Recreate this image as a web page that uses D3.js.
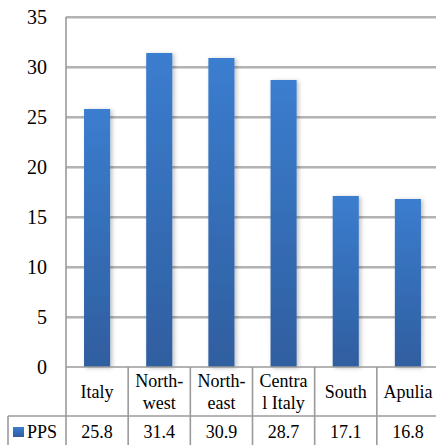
<!DOCTYPE html>
<html>
<head>
<meta charset="utf-8">
<script src="https://cdn.jsdelivr.net/npm/d3@7"></script>
<style>
  html, body { margin: 0; padding: 0; background: #fff; }
  svg text { font-family: "Liberation Serif", "Times New Roman", serif; fill: #000; }
</style>
</head>
<body>
<div id="chart"></div>
<script>
// data
const categories = ["Italy", "North-west", "North-east", "Central Italy", "South", "Apulia"];
const categoryLines = [["Italy"], ["North-", "west"], ["North-", "east"], ["Centra", "l Italy"], ["South"], ["Apulia"]];
const seriesName = "PPS";
const ppsValues = [25.8, 31.4, 30.9, 28.7, 17.1, 16.8];
const yTicks = [0, 5, 10, 15, 20, 25, 30, 35];

const W = 436, H = 445;
const plotLeft = 66, plotRight = 439, plotTop = 17, zeroY = 367;
const headBottom = 416, tableLeft = 8;

const svg = d3.select("#chart").append("svg")
    .attr("width", W).attr("height", H);

const defs = svg.append("defs");
const grad = defs.append("linearGradient")
    .attr("id", "barGrad").attr("x1", 0).attr("y1", 0).attr("x2", 0).attr("y2", 1);
grad.append("stop").attr("offset", "0%").attr("stop-color", "#3b7dcf");
grad.append("stop").attr("offset", "100%").attr("stop-color", "#2f5e9f");

const shadow = defs.append("filter").attr("id", "shadow")
    .attr("x", "-30%").attr("y", "-10%").attr("width", "180%").attr("height", "130%");
shadow.append("feDropShadow").attr("dx", 2).attr("dy", 1).attr("stdDeviation", 2)
    .attr("flood-color", "#000").attr("flood-opacity", 0.25);

const x = d3.scaleBand().domain(categories).range([plotLeft, plotRight])
    .paddingInner(0.58).paddingOuter(0.29);
const y = d3.scaleLinear().domain([0, 35]).range([zeroY, plotTop]);

const grey = "#9a9a9a";

// gridlines
svg.selectAll(".grid-shade").data(yTicks.filter(d => d > 0)).enter().append("line")
    .attr("x1", plotLeft).attr("x2", W)
    .attr("y1", d => y(d) + 1.5).attr("y2", d => y(d) + 1.5)
    .attr("stroke", "#d6d6d6").attr("stroke-width", 1);
svg.selectAll(".grid").data(yTicks.filter(d => d > 0)).enter().append("line")
    .attr("x1", plotLeft).attr("x2", W)
    .attr("y1", d => y(d)).attr("y2", d => y(d))
    .attr("stroke", grey).attr("stroke-width", 1.6);

// y axis labels
const yAxis = svg.append("g")
    .attr("transform", `translate(${plotLeft},0)`)
    .call(d3.axisLeft(y).tickValues(yTicks).tickSize(0).tickPadding(19));
yAxis.select(".domain").remove();
yAxis.selectAll("text")
    .style("font-family", '"Liberation Serif", serif')
    .style("font-size", "20px").attr("fill", "#000");

// bars
svg.selectAll(".bar").data(ppsValues).enter().append("rect")
    .attr("x", (d, i) => x(categories[i]))
    .attr("y", d => y(d))
    .attr("width", x.bandwidth())
    .attr("height", d => zeroY - y(d))
    .attr("fill", "url(#barGrad)")
    .attr("filter", "url(#shadow)");

// table lines
const step = x.step();
const cols = d3.range(categories.length + 1).map(i => plotLeft + i * step);
const tbl = svg.append("g").attr("stroke", grey).attr("stroke-width", 1.6);
tbl.append("line").attr("x1", plotLeft).attr("x2", plotLeft).attr("y1", plotTop).attr("y2", H);
tbl.append("line").attr("x1", plotLeft).attr("x2", W).attr("y1", zeroY).attr("y2", zeroY);
tbl.append("line").attr("x1", tableLeft).attr("x2", W).attr("y1", headBottom).attr("y2", headBottom);
tbl.append("line").attr("x1", tableLeft).attr("x2", tableLeft).attr("y1", headBottom).attr("y2", H);
tbl.selectAll(".col").data(cols.slice(1)).enter().append("line")
    .attr("x1", d => d).attr("x2", d => d).attr("y1", zeroY).attr("y2", H);

// header labels
const head = svg.selectAll(".head").data(categoryLines).enter().append("text")
    .attr("text-anchor", "middle")
    .style("font-size", "18px");
head.each(function (lines, i) {
    const cx = x(categories[i]) + x.bandwidth() / 2;
    const t = d3.select(this);
    if (lines.length === 1) {
        t.append("tspan").attr("x", cx).attr("y", 398).text(lines[0]);
    } else {
        lines.forEach((l, j) => {
            t.append("tspan").attr("x", cx).attr("y", 387 + j * 22).text(l);
        });
    }
});

// data row
svg.selectAll(".val").data(ppsValues).enter().append("text")
    .attr("x", (d, i) => x(categories[i]) + x.bandwidth() / 2)
    .attr("y", 438)
    .attr("text-anchor", "middle")
    .style("font-size", "18px")
    .text(d => d.toFixed(1));

// legend key
svg.append("rect").attr("x", 13).attr("y", 427).attr("width", 11).attr("height", 10)
    .attr("fill", "url(#barGrad)");
svg.append("text").attr("x", 27).attr("y", 438).style("font-size", "18px").text(seriesName);
</script>
</body>
</html>
